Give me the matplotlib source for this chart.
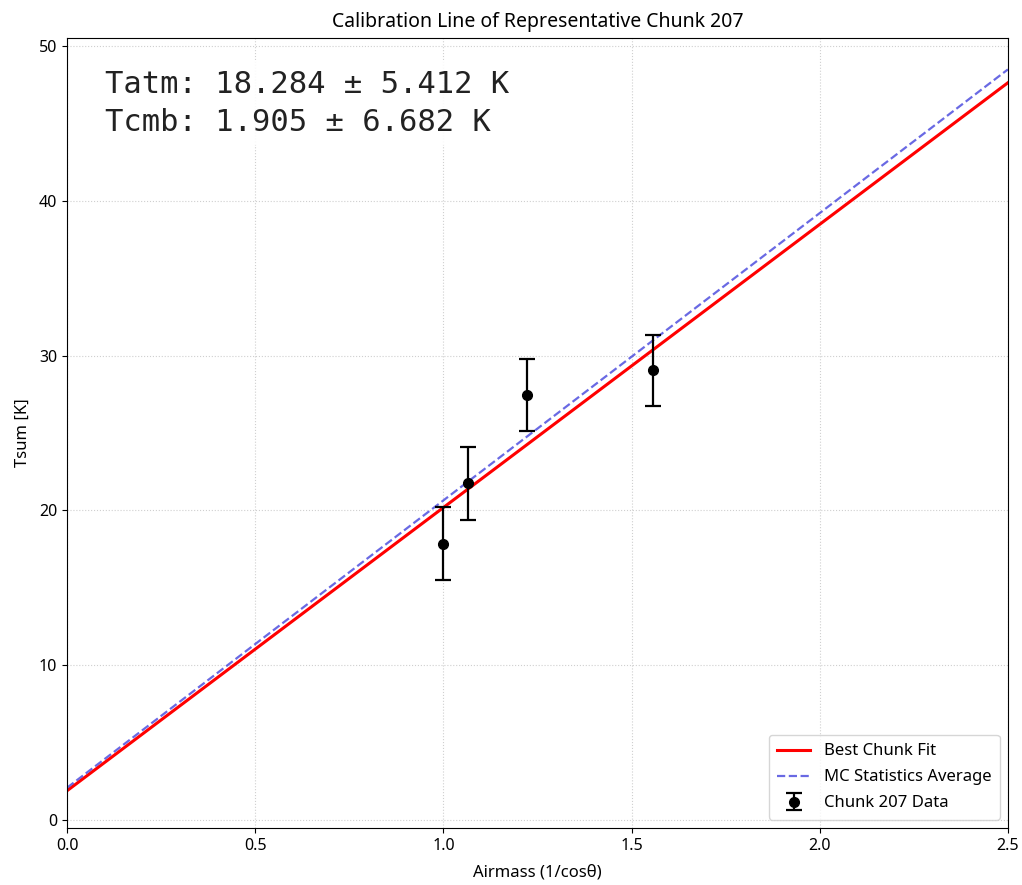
import numpy as np
import matplotlib
matplotlib.use("Agg")
import matplotlib.pyplot as plt

plt.rcParams['font.family'] = ['Noto Sans', 'DejaVu Sans']

# chunk 207 measurements
airmass = np.array([1.0, 1.065, 1.222, 1.557])
tsum = np.array([17.85, 21.75, 27.45, 29.05])
tsum_err = np.array([2.35, 2.35, 2.35, 2.3])

# fit results
tatm_best, tcmb_best = 18.284, 1.905
tatm_err, tcmb_err = 5.412, 6.682
tatm_mc, tcmb_mc = 18.55, 2.1

x_line = np.linspace(0, 2.5, 200)

fig = plt.figure(figsize=(10.22, 8.85), dpi=100)
ax = fig.add_axes([0.0656, 0.0644, 0.9206, 0.8926])

ax.plot(x_line, tatm_best*x_line + tcmb_best, color='red', lw=2.2, label='Best Chunk Fit')
ax.plot(x_line, tatm_mc*x_line + tcmb_mc, color='#4444dd', ls='--', lw=1.6, alpha=0.8,
        label='MC Statistics Average')
ax.errorbar(airmass, tsum, yerr=tsum_err, fmt='o', color='black', ms=7,
            capsize=6, elinewidth=1.6, capthick=1.6, label='Chunk 207 Data')

ax.text(0.04, 0.96,
        "Tatm: %.3f \u00b1 %.3f K\nTcmb: %.3f \u00b1 %.3f K" % (tatm_best, tatm_err, tcmb_best, tcmb_err),
        transform=ax.transAxes, family='DejaVu Sans Mono', fontsize=22, va='top', ha='left',
        linespacing=1.4, color='#222222',
        bbox=dict(facecolor='white', edgecolor='none', alpha=0.9, pad=6))

ax.set_xlim(0, 2.5)
ax.set_ylim(-0.5, 50.5)
ax.set_xlabel('Airmass (1/cos\u03b8)', fontsize=12, labelpad=8)
ax.set_ylabel('Tsum [K]', fontsize=12, labelpad=6)
ax.set_title('Calibration Line of Representative Chunk 207', fontsize=14, pad=8)
ax.tick_params(labelsize=11.5)
ax.grid(True, ls=':', alpha=0.6)
ax.legend(loc='lower right', fontsize=12, labelspacing=0.6, borderpad=0.5)

fig.savefig('out.png', dpi=100)
